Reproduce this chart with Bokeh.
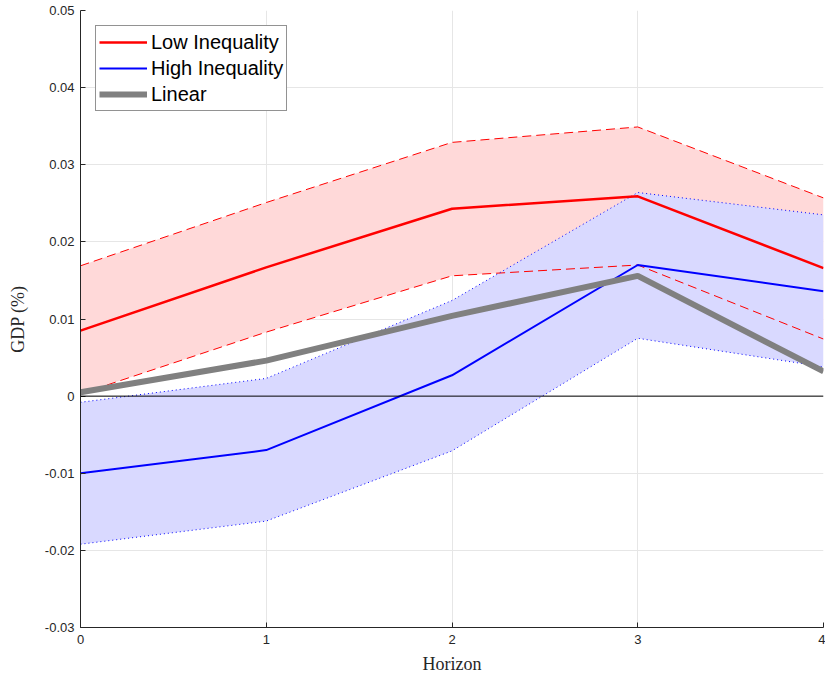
from bokeh.plotting import figure
from bokeh.models import FixedTicker, Legend, LegendItem, Span
from bokeh.embed import file_html
from bokeh.resources import INLINE

horizon = [0, 1, 2, 3, 4]
low_ineq = [0.0085, 0.0167, 0.0243, 0.0259, 0.0166]
low_upper = [0.0169, 0.0251, 0.0329, 0.0349, 0.0257]
low_lower = [0.0003, 0.0083, 0.0156, 0.0170, 0.0074]
high_ineq = [-0.0100, -0.0070, 0.0027, 0.0170, 0.0136]
high_upper = [-0.0008, 0.0023, 0.0124, 0.0264, 0.0235]
high_lower = [-0.0192, -0.0162, -0.0071, 0.0075, 0.0038]
linear = [0.0005, 0.0046, 0.0104, 0.0156, 0.0032]

x_ticks = [0, 1, 2, 3, 4]
y_ticks = [-0.03, -0.02, -0.01, 0.0, 0.01, 0.02, 0.03, 0.04, 0.05]
y_tick_labels = ["-0.03", "-0.02", "-0.01", "0", "0.01", "0.02", "0.03", "0.04", "0.05"]

p = figure(width=825, height=678, output_backend="svg", toolbar_location=None,
           x_range=(0, 4), y_range=(-0.03, 0.05),
           min_border_left=80, min_border_right=2, min_border_top=10, min_border_bottom=51)
p.outline_line_color = None
p.background_fill_color = "white"

# fills
p.varea(x=horizon, y1=low_lower, y2=low_upper, fill_color="#FFD9D9", fill_alpha=1.0)
p.varea(x=horizon, y1=high_lower, y2=high_upper, fill_color="#D9D9FF", fill_alpha=1.0)

# zero line
p.add_layout(Span(location=0, dimension="width", line_color="black", line_width=1))

# bounds
p.line(horizon, low_upper, line_color="red", line_width=1, line_dash="9 5")
p.line(horizon, low_lower, line_color="red", line_width=1, line_dash="9 5")
p.line(horizon, high_upper, line_color="blue", line_width=1, line_dash="1 3")
p.line(horizon, high_lower, line_color="blue", line_width=1, line_dash="1 3")

r_low = p.line(horizon, low_ineq, line_color="red", line_width=2.5)
r_high = p.line(horizon, high_ineq, line_color="blue", line_width=2)
r_lin = p.line(horizon, linear, line_color="gray", line_width=6)

# grid
p.xgrid.ticker = FixedTicker(ticks=x_ticks)
p.ygrid.ticker = FixedTicker(ticks=y_ticks)
for g in (p.xgrid, p.ygrid):
    g.grid_line_color = "#e6e6e6"
    g.grid_line_width = 1
    g.level = "underlay"

# axes
p.xaxis.ticker = FixedTicker(ticks=x_ticks)
p.yaxis.ticker = FixedTicker(ticks=y_ticks)
p.yaxis.major_label_overrides = {t: l for t, l in zip(y_ticks, y_tick_labels)}
for ax in (p.xaxis, p.yaxis):
    ax.axis_line_color = "#262626"
    ax.major_tick_line_color = "#262626"
    ax.major_tick_in = 5
    ax.major_tick_out = 0
    ax.minor_tick_line_color = None
    ax.major_label_text_font = "Liberation Sans"
    ax.major_label_text_font_size = "13px"
    ax.major_label_text_color = "#262626"
    ax.axis_label_text_font = "Liberation Serif"
    ax.axis_label_text_font_size = "18px"
    ax.axis_label_text_font_style = "normal"
    ax.axis_label_text_color = "#262626"
p.xaxis.axis_label = "Horizon"
p.yaxis.axis_label = "GDP (%)"
p.xaxis.major_label_standoff = 7
p.yaxis.major_label_standoff = 6
p.xaxis.axis_label_standoff = 7
p.yaxis.axis_label_standoff = 14

legend = Legend(items=[LegendItem(label="Low Inequality", renderers=[r_low]),
                       LegendItem(label="High Inequality", renderers=[r_high]),
                       LegendItem(label="Linear", renderers=[r_lin])],
                location="top_left")
legend.margin = 15
legend.padding = 3
legend.spacing = 0
legend.glyph_width = 48
legend.glyph_height = 26
legend.label_height = 26
legend.label_standoff = 4
legend.label_text_font = "Liberation Sans"
legend.label_text_font_size = "20px"
legend.label_text_color = "black"
legend.border_line_color = "#262626"
legend.border_line_width = 1
legend.background_fill_color = "white"
legend.background_fill_alpha = 1.0
p.add_layout(legend)

open("out.html", "w").write(file_html(p, INLINE))
